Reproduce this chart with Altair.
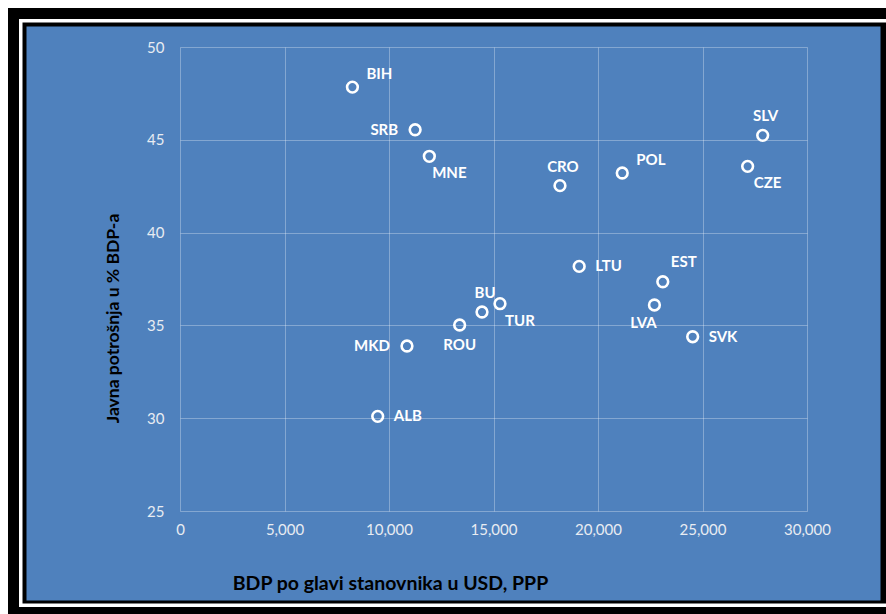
import altair as alt
import pandas as pd

# ---- data ----
countries = ["BIH", "SRB", "MNE", "CRO", "POL", "CZE", "SLV", "LTU",
             "EST", "LVA", "SVK", "BU", "TUR", "ROU", "MKD", "ALB"]
gdp_pc = [8250, 11250, 11930, 18180, 21160, 27160, 27880, 19100,
          23100, 22700, 24530, 14450, 15310, 13380, 10860, 9460]
spending = [47.84, 45.54, 44.11, 42.53, 43.21, 43.57, 45.24, 38.18,
            37.35, 36.10, 34.39, 35.72, 36.17, 35.02, 33.89, 30.10]
label_pos = ["upper-right", "left", "below-right", "above", "upper-right",
             "below-right", "above", "right", "above-right", "below-left",
             "right", "above", "below-right", "below", "left", "right"]

x_ticks = [0, 5000, 10000, 15000, 20000, 25000, 30000]
y_ticks = [25, 30, 35, 40, 45, 50]

x_title = "BDP po glavi stanovnika u USD, PPP"
y_title = "Javna potrošnja u % BDP-a"

df = pd.DataFrame({"country": countries, "gdp": gdp_pc,
                   "spend": spending, "pos": label_pos})

FONT = "Lato"
BLUE = "#4F81BD"

# label placement styles: (align, dx, dy)
PLACEMENT = {
    "right": ("left", 16, 0),
    "left": ("right", -17, 0),
    "upper-right": ("left", 14, -13),
    "above": ("center", 3, -19),
    "above-right": ("center", 21, -20),
    "below": ("center", 0, 20),
    "below-right": ("center", 20, 17),
    "below-left": ("center", -11, 18),
}

W, H = 627, 464
PAD = {"left": 180, "top": 47, "right": 79, "bottom": 103}

x_enc = alt.X(
    "gdp:Q",
    scale=alt.Scale(domain=[0, 30000], nice=False, zero=False),
    axis=alt.Axis(
        values=x_ticks, format=",d", title=x_title, zindex=1,
        grid=True, gridColor="#ffffff", gridOpacity=0.3, gridWidth=1,
        domain=False, ticks=False, labelColor="#e8ecf2", labelFont=FONT,
        labelFontSize=15, labelPadding=11, labelOverlap=False, labelFlush=False,
        titleFont=FONT, titleFontSize=19.5, titleFontWeight="bold", titleColor="#000000",
        titleX=210, titleY=72, titleAlign="center", titleBaseline="middle",
        titleAnchor="start",
    ),
)
y_enc = alt.Y(
    "spend:Q",
    scale=alt.Scale(domain=[25, 50], nice=False, zero=False),
    axis=alt.Axis(
        values=y_ticks, title=y_title, zindex=1,
        grid=True, gridColor="#ffffff", gridOpacity=0.3, gridWidth=1,
        domain=False, ticks=False, labelColor="#e8ecf2", labelFont=FONT,
        labelFontSize=15, labelPadding=16, labelOverlap=False, labelFlush=False,
        titleFont=FONT, titleFontSize=17.5, titleFontWeight="bold", titleColor="#000000",
        titleX=-67, titleY=271, titleAlign="center", titleBaseline="middle",
        titleAngle=270, titleAnchor="start",
    ),
)

# ---- decorative frame (black / white / black / blue) ----
one = pd.DataFrame({"k": [0]})


def frame(x0, y0, x1, y1, color):
    return alt.Chart(one).mark_rect(color=color, opacity=1).encode(
        x=alt.value(x0), x2=alt.value(x1), y=alt.value(y0), y2=alt.value(y1)
    )


frames = [
    frame(8 - PAD["left"], 8 - PAD["top"], 900 - PAD["left"], 620 - PAD["top"], "#000000"),
    frame(19 - PAD["left"], 19 - PAD["top"], 900 - PAD["left"], 607 - PAD["top"], "#ffffff"),
    frame(22.5 - PAD["left"], 22.5 - PAD["top"], 900 - PAD["left"], 603.5 - PAD["top"], "#000000"),
    frame(26.5 - PAD["left"], 26.5 - PAD["top"], 880.5 - PAD["left"], 600.5 - PAD["top"], BLUE),
]

base = alt.Chart(df)

points = base.mark_point(
    shape="circle", filled=False, stroke="#ffffff", strokeWidth=2.6,
    size=115, opacity=1,
).encode(x=x_enc, y=y_enc)

texts = []
for name, (align, dx, dy) in PLACEMENT.items():
    texts.append(
        base.transform_filter(alt.datum.pos == name).mark_text(
            align=align, baseline="middle", dx=dx, dy=dy, font=FONT,
            fontSize=15, fontWeight="bold", color="#ffffff",
        ).encode(x=x_enc, y=y_enc, text="country:N")
    )

chart = alt.layer(*frames, points, *texts).properties(
    width=W, height=H,
    autosize=alt.AutoSizeParams(type="none"),
    padding=PAD,
    background="#ffffff",
).configure_view(strokeWidth=0, fill=None)

chart.save("out.html", embed_options={"renderer": "svg", "actions": False})
